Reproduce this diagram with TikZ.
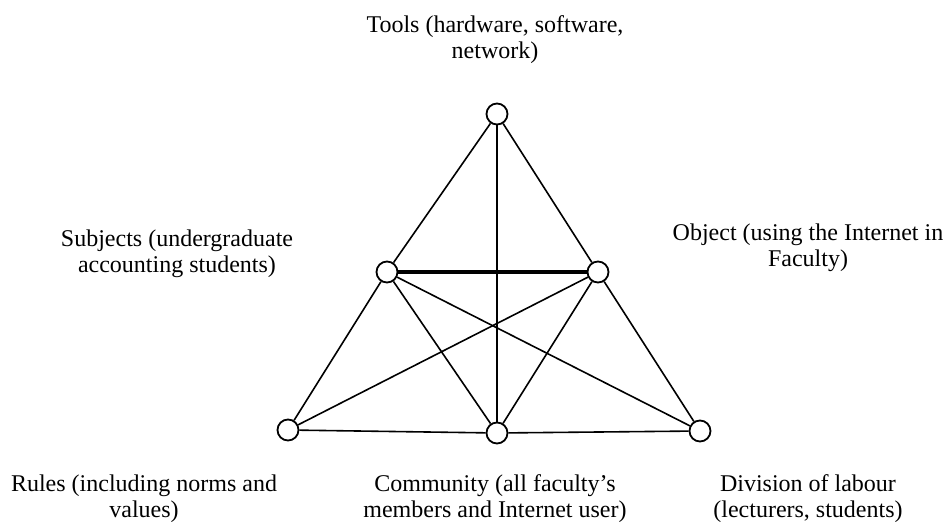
\documentclass[tikz,border=0pt]{standalone}
\usepackage{fontspec}
\setmainfont{Liberation Serif}

\begin{document}
\begin{tikzpicture}[x=1pt, y=-1pt, line width=1.6pt]
    \tikzstyle{vertex}=[circle, draw, fill=white, minimum size=21pt, inner sep=0pt, line width=1.8pt]
    \tikzstyle{note}=[align=center, font=\fontsize{24}{26}\selectfont, inner sep=0pt]

    \useasboundingbox (0,0) rectangle (946,522);

    % the six corners of the activity system
    \node[vertex] (T) at (497,114) {};
    \node[vertex] (S) at (387,272) {};
    \node[vertex] (O) at (598,272) {};
    \node[vertex] (R) at (288,430) {};
    \node[vertex] (C) at (497,433) {};
    \node[vertex] (D) at (700,431) {};

    \foreach \source / \dest in {T/S, T/O, T/C, S/R, S/C, S/D, O/R, O/C, O/D, R/C, C/D}
        \draw (\source) -- (\dest);
    \draw[line width=3.5pt] (S) -- (O);

    % captions
    \node[note] (tools) at (495,40) {Tools (hardware, software,\\ network)};
    \node[note] (subj) at (177,254) {Subjects (undergraduate\\ accounting students)};
    \node[note] (obj) at (808,248) {Object (using the Internet in\\ Faculty)};
    \node[note] (rules) at (144,499) {Rules (including norms and\\ values)};
    \node[note] (comm) at (495,499) {Community (all faculty’s\\ members and Internet user)};
    \node[note] (div) at (808,499) {Division of labour\\ (lecturers, students)};
\end{tikzpicture}
\end{document}
